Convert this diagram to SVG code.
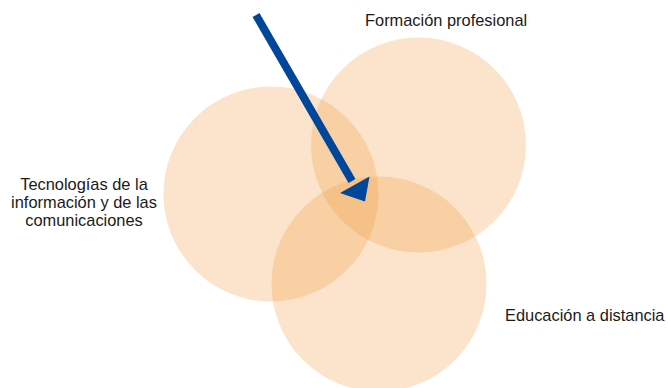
<svg xmlns="http://www.w3.org/2000/svg" width="668" height="388" viewBox="0 0 668 388">
<style>
.c{fill:#F09737;fill-opacity:0.26}
.t{font-family:"Liberation Sans",Arial,sans-serif;font-size:16.4px;fill:#1a1a1a}
</style>
<rect width="668" height="388" fill="#fff"/>
<g id="tic">
<circle class="c" cx="271" cy="194" r="107.5"/>
<text class="t" text-anchor="middle"><tspan x="84" y="189.5">Tecnologías de la</tspan><tspan x="84" y="207.5">información y de las</tspan><tspan x="84" y="225.5">comunicaciones</tspan></text>
</g>
<g id="formacion">
<circle class="c" cx="418.5" cy="145" r="107.5"/>
<text class="t" x="365" y="26">Formación profesional</text>
</g>
<g id="educacion">
<circle class="c" cx="379" cy="284" r="107.5"/>
<text class="t" x="505" y="321">Educación a distancia</text>
</g>
<g id="connectors">
<line x1="256" y1="15" x2="352" y2="181" stroke="#00479C" stroke-width="8"/>
<polygon points="365,201.5 340,193 369.5,176.5" fill="#00479C"/>
</g>
</svg>
